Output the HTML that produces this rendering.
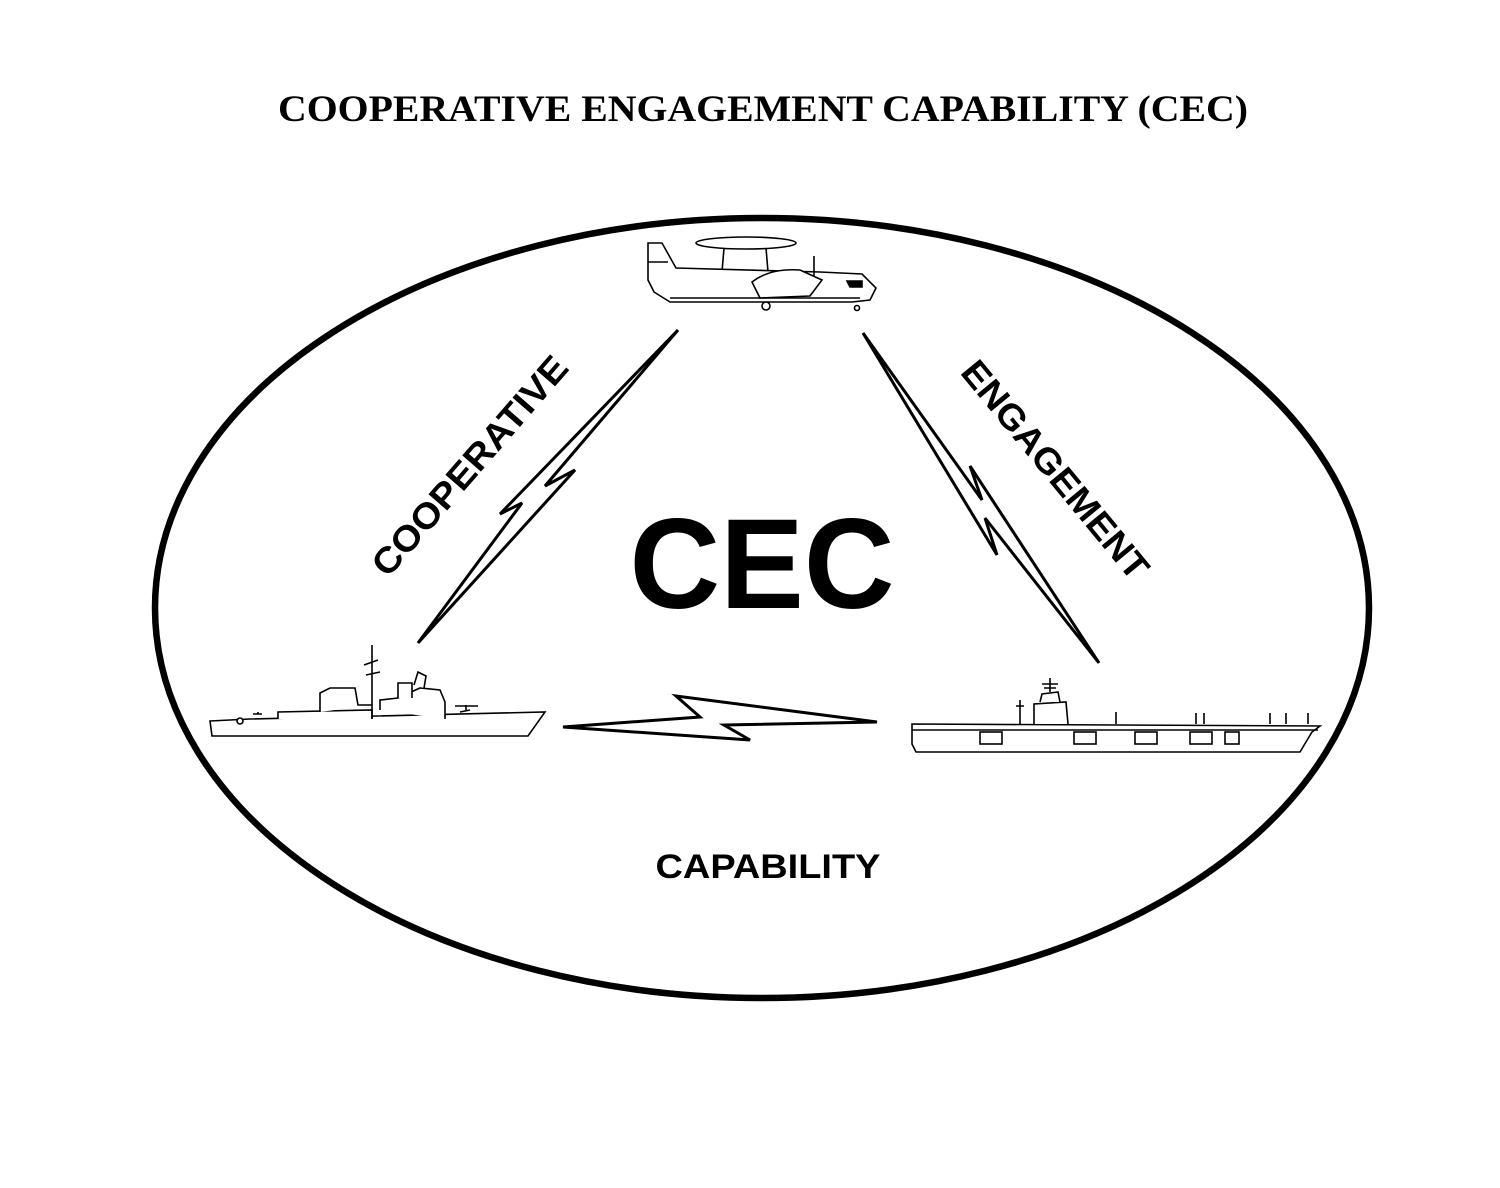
<!DOCTYPE html>
<html><head><style>
html,body{margin:0;padding:0;background:#fff;}
svg{display:block;}
</style></head><body>
<svg width="1500" height="1188" viewBox="0 0 1500 1188" xmlns="http://www.w3.org/2000/svg">
<rect width="1500" height="1188" fill="#fff"/>
<text x="763" y="121" text-anchor="middle" font-family="Liberation Serif, serif" font-weight="bold" font-size="37" textLength="970" lengthAdjust="spacingAndGlyphs">COOPERATIVE ENGAGEMENT CAPABILITY (CEC)</text>
<ellipse cx="762" cy="608" rx="607" ry="390" fill="none" stroke="#000" stroke-width="6.5"/>

<!-- aircraft -->
<g fill="#fff" stroke="#000" stroke-width="1.6">
<ellipse cx="746" cy="243" rx="50" ry="6"/>
<path d="M724 248 L722 272 M766 248 L768 272"/>
<path d="M648 243 L662 243 L676 268 L820 272 L862 274 L876 288 L870 300 L852 302 L670 302 L654 292 L648 280 Z"/>
<path d="M752 282 Q770 268 800 270 L822 280 L810 296 L760 298 Z"/>
<path d="M648 262 L668 262 M670 298 L860 298"/>
<circle cx="766" cy="306" r="4"/>
<circle cx="857" cy="308" r="2.5"/>
<path d="M814 256 L814 276"/>
<path d="M847 281 L862 281 L862 287 L850 287 Z" fill="#000"/>
</g>

<!-- cruiser left -->
<g fill="#fff" stroke="#000" stroke-width="1.6">
<path d="M210 721 L250 719 L545 712 L528 736 L212 736 Z"/>
<path d="M278 719 L278 712 L372 710 L372 719"/>
<path d="M320 712 L320 693 L330 688 L355 688 L358 705 L372 705"/>
<path d="M380 710 L380 700 L398 698 L420 688 L440 690 L445 702 L445 719"/>
<path d="M372 719 L372 645 M366 675 L380 672 M364 665 L378 660"/>
<path d="M398 698 L398 683 L412 683 L412 698"/>
<path d="M414 685 L418 672 L426 676 L424 688"/>
<path d="M460 712 L470 710 M466 710 L466 705 M455 706 L478 706"/>
<path d="M253 714 L262 714 M258 714 L258 712"/>
<circle cx="240" cy="721" r="3"/>
</g>

<!-- carrier right -->
<g fill="#fff" stroke="#000" stroke-width="1.6">
<path d="M912 724 L1320 726 L1312 732 L1300 752 L916 752 L912 744 Z"/>
<path d="M912 730 L1318 730"/>
<path d="M1034 724 L1034 704 L1066 702 L1068 724"/>
<path d="M1040 702 L1042 694 L1058 692 L1060 702"/>
<path d="M1050 692 L1050 678 M1042 684 L1058 684 M1044 688 L1056 688"/>
<path d="M1020 724 L1020 700 M1016 706 L1024 706"/>
<path d="M1116 724 L1116 712"/>
<rect x="980" y="732" width="22" height="12"/>
<rect x="1074" y="732" width="22" height="12"/>
<rect x="1135" y="732" width="22" height="12"/>
<rect x="1190" y="732" width="22" height="12"/>
<rect x="1225" y="732" width="14" height="12"/>
<path d="M1196 724 L1196 713 M1204 724 L1204 713 M1270 724 L1270 713 M1286 724 L1286 713 M1308 724 L1308 713"/>
</g>

<!-- bolts -->
<g fill="#fff" stroke="#000" stroke-width="3" stroke-linejoin="miter">
<polygon points="418,643 522,503 500,514 678,330 545,486 575,470"/>
<polygon points="863,333 997,555 985,518 1099,663 970,466 982,500"/>
<polygon points="563,727 700,717 676,696 877,722 724,725 750,740"/>
</g>

<text transform="translate(470,466) rotate(-49)" text-anchor="middle" font-family="Liberation Sans, sans-serif" font-weight="bold" font-size="36" textLength="278" lengthAdjust="spacingAndGlyphs" y="12">COOPERATIVE</text>
<text transform="translate(1055,470) rotate(50.5)" text-anchor="middle" font-family="Liberation Sans, sans-serif" font-weight="bold" font-size="36" textLength="272" lengthAdjust="spacingAndGlyphs" y="12">ENGAGEMENT</text>
<text x="762" y="608" text-anchor="middle" font-family="Liberation Sans, sans-serif" font-weight="bold" font-size="128" textLength="265" lengthAdjust="spacingAndGlyphs">CEC</text>
<text x="768" y="878" text-anchor="middle" font-family="Liberation Sans, sans-serif" font-weight="bold" font-size="34" textLength="225" lengthAdjust="spacingAndGlyphs">CAPABILITY</text>
</svg>
</body></html>
